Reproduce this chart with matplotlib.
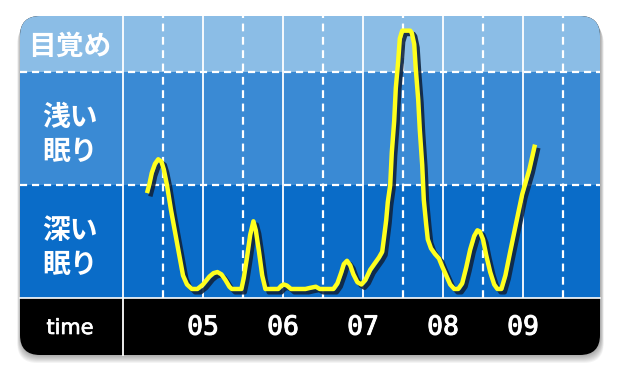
import matplotlib.pyplot as plt
import matplotlib.patheffects as pe
from matplotlib.patches import FancyBboxPatch

plt.rcParams['font.family'] = ['Noto Sans CJK JP', 'DejaVu Sans']

# sleep depth over the night (0 = deep, 1 = light, 2 = awake)
hours = [4.30, 4.33, 4.36, 4.40, 4.44, 4.48, 4.51, 4.55, 4.60, 4.68,
         4.75, 4.80, 4.86, 4.93, 5.00, 5.08, 5.13, 5.18, 5.23, 5.28,
         5.33, 5.36, 5.48, 5.51, 5.55, 5.59, 5.63, 5.66, 5.70, 5.74,
         5.78, 5.94, 5.98, 6.01, 6.05, 6.10, 6.28, 6.34, 6.41, 6.46,
         6.63, 6.68, 6.73, 6.76, 6.80, 6.84, 6.88, 6.93, 6.98, 7.03,
         7.09, 7.15, 7.20, 7.24, 7.26, 7.29, 7.31, 7.34, 7.36, 7.39,
         7.41, 7.44, 7.46, 7.49, 7.59, 7.61, 7.64, 7.66, 7.69, 7.71,
         7.74, 7.76, 7.79, 7.81, 7.85, 7.90, 7.95, 7.99, 8.04, 8.09,
         8.14, 8.19, 8.24, 8.29, 8.34, 8.39, 8.43, 8.46, 8.50, 8.54,
         8.59, 8.64, 8.68, 8.73, 8.78, 8.84, 8.91, 8.99, 9.08, 9.15]
stage = [0.93, 1.01, 1.11, 1.19, 1.23, 1.21, 1.14, 1.00, 0.78, 0.47,
         0.20, 0.12, 0.08, 0.08, 0.12, 0.19, 0.22, 0.23, 0.21, 0.16,
         0.10, 0.08, 0.08, 0.18, 0.36, 0.56, 0.68, 0.60, 0.41, 0.20,
         0.08, 0.08, 0.11, 0.12, 0.11, 0.08, 0.08, 0.09, 0.10, 0.08,
         0.08, 0.13, 0.23, 0.30, 0.33, 0.29, 0.21, 0.14, 0.12, 0.16,
         0.25, 0.31, 0.36, 0.41, 0.52, 0.69, 0.85, 1.00, 1.29, 1.57,
         1.86, 2.10, 2.30, 2.37, 2.37, 2.35, 2.25, 2.03, 1.76, 1.49,
         1.18, 0.87, 0.65, 0.52, 0.44, 0.39, 0.35, 0.28, 0.20, 0.12,
         0.08, 0.08, 0.13, 0.27, 0.43, 0.55, 0.60, 0.59, 0.52, 0.38,
         0.23, 0.12, 0.08, 0.08, 0.20, 0.41, 0.65, 0.92, 1.14, 1.36]

stage_names = ['深い\n眠り', '浅い\n眠り', '目覚め']
stage_bounds = [0, 1, 2, 2.5]
band_colors = ['#0a6cc8', '#3a8ad4', '#8bbde6']
tick_hours = [5, 6, 7, 8, 9]
tick_labels = ['05', '06', '07', '08', '09']

W, H = 620, 380
fig = plt.figure(figsize=(6.2, 3.8), dpi=100)
bg = fig.add_axes([0, 0, 1, 1])
bg.set_xlim(0, W)
bg.set_ylim(H, 0)
bg.axis('off')

# soft shadow under the card
for k in range(8):
    bg.add_patch(FancyBboxPatch((20 - k * 0.4, 17 + k), 581 + k * 0.8, 339,
                                boxstyle='round,pad=0,rounding_size=20',
                                fc='black', ec='none', alpha=0.045))
card = FancyBboxPatch((20, 16), 580, 339, boxstyle='round,pad=0,rounding_size=20',
                      fc='black', ec='none')
bg.add_patch(card)

# plot area
ax = fig.add_axes([123 / W, (H - 298) / H, 477 / W, 282 / H])
ax.set_xlim(4, 4 + 477 / 80)
ax.set_ylim(0, 2.5)
ax.set_facecolor('none')
for s in ax.spines.values():
    s.set_visible(False)

left = -103 / 477
bottom = -57 / 282
for i, c in enumerate(band_colors):
    band = ax.axhspan(stage_bounds[i], stage_bounds[i + 1], xmin=left, xmax=1,
                      color=c, lw=0, zorder=0)
    band.set_clip_path(card)
    band.set_clip_box(None)

for b in stage_bounds[1:3]:
    ax.axhline(b, xmin=left, xmax=1, color='white', lw=1.6,
               ls=(0, (3.2, 2.2)), clip_on=False, zorder=1)
ax.axhline(0, xmin=left, xmax=1, color='white', lw=1.2, clip_on=False, zorder=1)
ax.axvline(4, ymin=bottom, ymax=1, color='white', lw=1.3, clip_on=False, zorder=1)
for h in tick_hours:
    ax.axvline(h, color='white', lw=1.3, zorder=1)
    ax.axvline(h - 0.5, color='white', lw=1.6, ls=(0, (3.5, 2.5)), zorder=1)
ax.axvline(9.5, color='white', lw=1.6, ls=(0, (3.5, 2.5)), zorder=1)

ax.plot(hours, stage, color='#ffff1e', lw=3.2, solid_joinstyle='round',
        solid_capstyle='butt', zorder=3,
        path_effects=[pe.SimpleLineShadow(offset=(2.4, -2.4), shadow_color='#10243f',
                                          alpha=0.9),
                      pe.Normal()])

ax.set_xticks(tick_hours, tick_labels)
ax.tick_params(axis='x', length=0, pad=12, labelcolor='white', labelsize=19)
for t in ax.get_xticklabels():
    t.set_fontfamily('DejaVu Sans Mono')
    t.set_path_effects([pe.withStroke(linewidth=0.7, foreground='white')])

centers = [(stage_bounds[i] + stage_bounds[i + 1]) / 2 for i in range(3)]
ax.set_yticks(centers, stage_names)
ax.tick_params(axis='y', length=0, pad=38, labelcolor='white', labelsize=20)
for t in ax.get_yticklabels():
    t.set_horizontalalignment('center')
    t.set_fontweight('bold')
    t.set_linespacing(1.3)

bg.text(70, 328, 'time', color='white', fontsize=15, ha='center', va='center',
        family='DejaVu Sans',
        path_effects=[pe.withStroke(linewidth=0.5, foreground='white')])

fig.savefig('out.png', dpi=100)
